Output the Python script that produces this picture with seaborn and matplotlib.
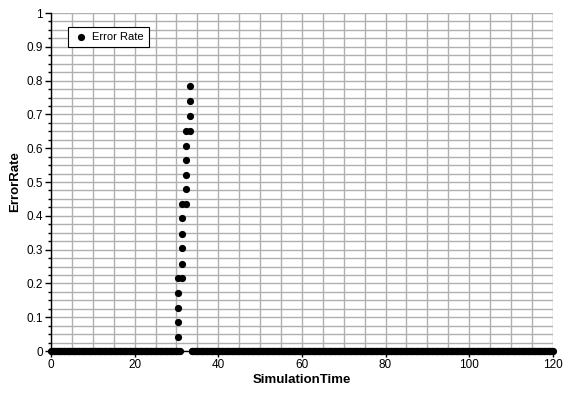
import numpy as np
import pandas as pd
import matplotlib
matplotlib.use("Agg")
import matplotlib.pyplot as plt
from matplotlib.ticker import MultipleLocator
import seaborn as sns

# ---- data ----
rise_time = [30.4, 30.4, 30.4, 30.4, 30.4,
             31.3, 31.3, 31.3, 31.3, 31.3, 31.3,
             32.3, 32.3, 32.3, 32.3, 32.3, 32.3,
             33.3, 33.3, 33.3, 33.3]
rise_error = [0.041, 0.085, 0.128, 0.171, 0.217,
              0.217, 0.257, 0.304, 0.346, 0.394, 0.435,
              0.435, 0.478, 0.521, 0.565, 0.607, 0.652,
              0.652, 0.695, 0.740, 0.784]
# samples lying on zero (dense simulation steps), with a gap around t = 31..33.3
zero_time_before = np.arange(0.0, 31.0, 0.2)
zero_time_after = np.arange(33.6, 120.01, 0.2)
zero_error_value = 0.0

x_ticks = [0, 20, 40, 60, 80, 100, 120]
y_ticks = [0, 0.1, 0.2, 0.3, 0.4, 0.5, 0.6, 0.7, 0.8, 0.9, 1]
y_tick_labels = ["0", "0.1", "0.2", "0.3", "0.4", "0.5", "0.6", "0.7", "0.8", "0.9", "1"]

zero_time = np.concatenate([zero_time_before, zero_time_after])
df = pd.DataFrame({
    "SimulationTime": np.concatenate([zero_time, rise_time]),
    "ErrorRate": np.concatenate([np.full(len(zero_time), zero_error_value), rise_error]),
})

sns.set_theme(style="white")
plt.rcParams["font.family"] = ["Liberation Sans", "DejaVu Sans"]
plt.rcParams["text.color"] = "black"
plt.rcParams["axes.labelcolor"] = "black"
plt.rcParams["xtick.color"] = "black"
plt.rcParams["ytick.color"] = "black"

fig = plt.figure(figsize=(5.67, 3.94), dpi=100)
ax = fig.add_axes([0.09, 0.109, 0.885, 0.858])

sns.scatterplot(data=df, x="SimulationTime", y="ErrorRate", color="black",
                s=27, linewidth=0, label="Error Rate", ax=ax, zorder=3,
                clip_on=False)

ax.set_xlim(0, 120)
ax.set_ylim(0, 1)
ax.set_xticks(x_ticks)
ax.set_xticklabels([str(v) for v in x_ticks], fontsize=8.5)
ax.set_yticks(y_ticks)
ax.set_yticklabels(y_tick_labels, fontsize=8.5)
ax.xaxis.set_minor_locator(MultipleLocator(5))
ax.yaxis.set_minor_locator(MultipleLocator(0.025))

ax.grid(True, which="both", color="#b0b0b0", linewidth=1.0)
ax.set_axisbelow(True)

for side in ["top", "right"]:
    ax.spines[side].set_visible(False)
for side in ["left", "bottom"]:
    ax.spines[side].set_color("black")
    ax.spines[side].set_linewidth(1.0)

ax.tick_params(axis="both", which="major", direction="out", length=4, width=1,
               color="black", labelcolor="black", pad=2, bottom=True, left=True)
ax.tick_params(axis="both", which="minor", direction="out", length=2.5, width=1,
               color="black", bottom=True, left=True)

ax.set_xlabel("SimulationTime", fontsize=9.5, fontweight="bold", labelpad=2, color="black")
ax.set_ylabel("ErrorRate", fontsize=9.5, fontweight="bold", labelpad=4, color="black")

leg = ax.legend(loc="upper left", bbox_to_anchor=(0.034, 0.96), borderaxespad=0,
                fontsize=8, frameon=True, fancybox=False, framealpha=1,
                edgecolor="black", handletextpad=0.3, borderpad=0.45,
                handlelength=1.4, markerscale=1.0)
leg.get_frame().set_linewidth(0.8)
for t in leg.get_texts():
    t.set_color("black")

fig.savefig("out.png", dpi=100)
